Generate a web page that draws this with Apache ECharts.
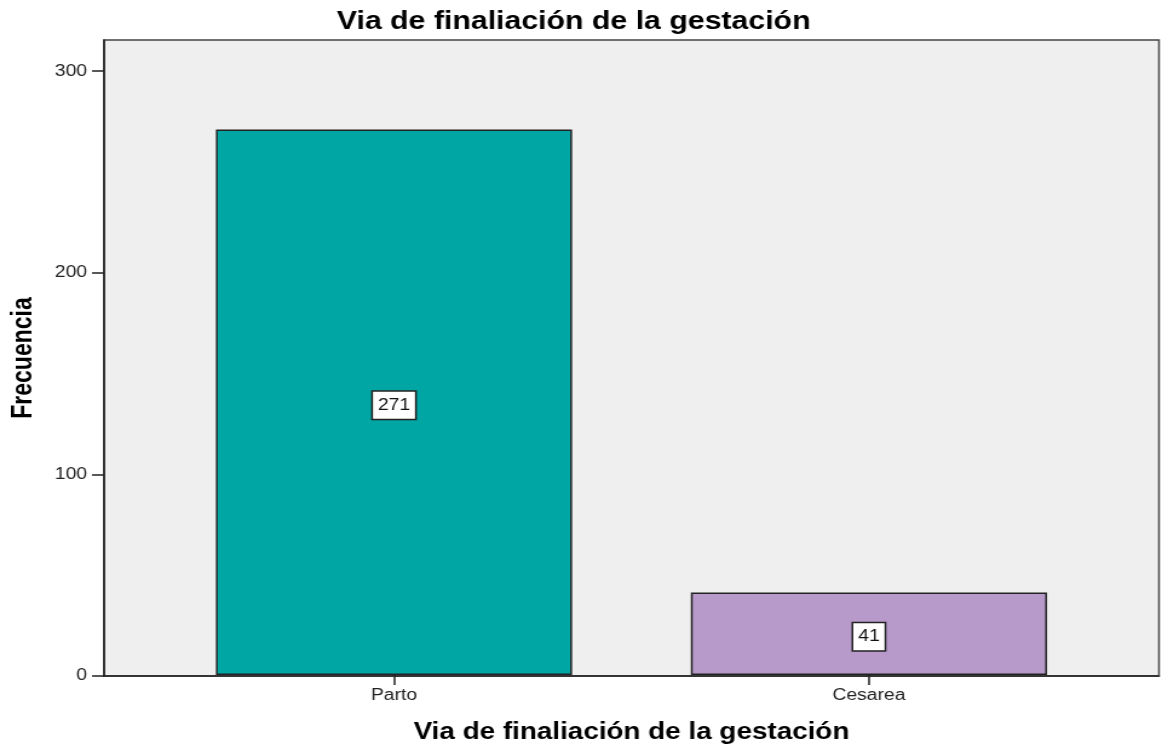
<!DOCTYPE html>
<html>
<head>
<meta charset="utf-8">
<script src="https://cdn.jsdelivr.net/npm/echarts@6/dist/echarts.min.js"></script>
<style>
html,body{margin:0;padding:0;background:#fff;overflow:hidden;}
#wrap{width:1162px;height:749px;overflow:hidden;}
#c{width:960px;height:749px;transform:scaleX(1.2104);transform-origin:0 0;}
</style>
</head>
<body>
<div id="wrap"><div id="c"></div></div>
<script>
const categories = ['Parto', 'Cesarea'];
const frequencies = [271, 41];
const barColors = ['#00a6a4', '#b89aca'];
const yTicks = [0, 100, 200, 300];
const titleText = 'Via de finaliación de la gestación';
const xAxisTitle = 'Via de finaliación de la gestación';
const yAxisTitle = 'Frecuencia';

const FONT = 'Arial, "Liberation Sans", sans-serif';
const chart = echarts.init(document.getElementById('c'), null, {renderer: 'canvas'});
const yMax = 315.5;
chart.setOption({
  animation: false,
  backgroundColor: '#ffffff',
  title: {
    text: titleText, left: 469, top: 5, textAlign: 'center',
    textStyle: {fontFamily: FONT, fontWeight: 'bold', fontSize: 25, color: '#000'}
  },
  grid: [
    {left: 86, right: 2.5, top: 40, bottom: 73, show: true, backgroundColor: '#efefef', borderColor: '#444', borderWidth: 1.5, containLabel: false},
    {left: 129.3, right: 45.9, top: 40, bottom: 73, containLabel: false}
  ],
  xAxis: [
    {gridIndex: 0, type: 'category', data: [''], axisLine: {show: true, lineStyle: {color: '#222', width: 1.5}}, axisTick: {show: false}, axisLabel: {show: false}, splitLine: {show: false}},
    {gridIndex: 1, type: 'category', data: categories,
     axisLine: {show: false}, axisTick: {show: true, alignWithLabel: true, length: 10, lineStyle: {color: '#222', width: 1.5}},
     axisLabel: {margin: 13, fontFamily: FONT, fontSize: 16, color: '#222'},
     name: xAxisTitle, nameLocation: 'middle', nameGap: 46,
     nameTextStyle: {fontFamily: FONT, fontWeight: 'bold', fontSize: 23, color: '#000'}}
  ],
  yAxis: [
    {gridIndex: 0, type: 'value', min: 0, max: yMax, interval: 100,
     axisLine: {show: true, lineStyle: {color: '#222', width: 1.5}},
     axisTick: {show: true, length: 10, customValues: yTicks, lineStyle: {color: '#222', width: 1.5}},
     axisLabel: {margin: 14, customValues: yTicks, fontFamily: FONT, fontSize: 16, color: '#222'},
     splitLine: {show: false},
     name: yAxisTitle, nameLocation: 'middle', nameGap: 55, nameRotate: 90,
     nameTextStyle: {fontFamily: FONT, fontWeight: 'bold', fontSize: 23, color: '#000'}},
    {gridIndex: 1, type: 'value', min: 0, max: yMax, show: false}
  ],
  series: [{
    type: 'bar', xAxisIndex: 1, yAxisIndex: 1, barWidth: '75%',
    data: frequencies.map((v, i) => ({value: v, itemStyle: {color: barColors[i]}})),
    itemStyle: {borderColor: '#222', borderWidth: 1.5},
    label: {show: true, position: 'inside', offset: [0, 3], fontFamily: FONT, fontSize: 16, color: '#111',
      backgroundColor: '#fff', borderColor: '#222', borderWidth: 1.5, padding: [6, 4, 5, 4]}
  }]
});
</script>
</body>
</html>
